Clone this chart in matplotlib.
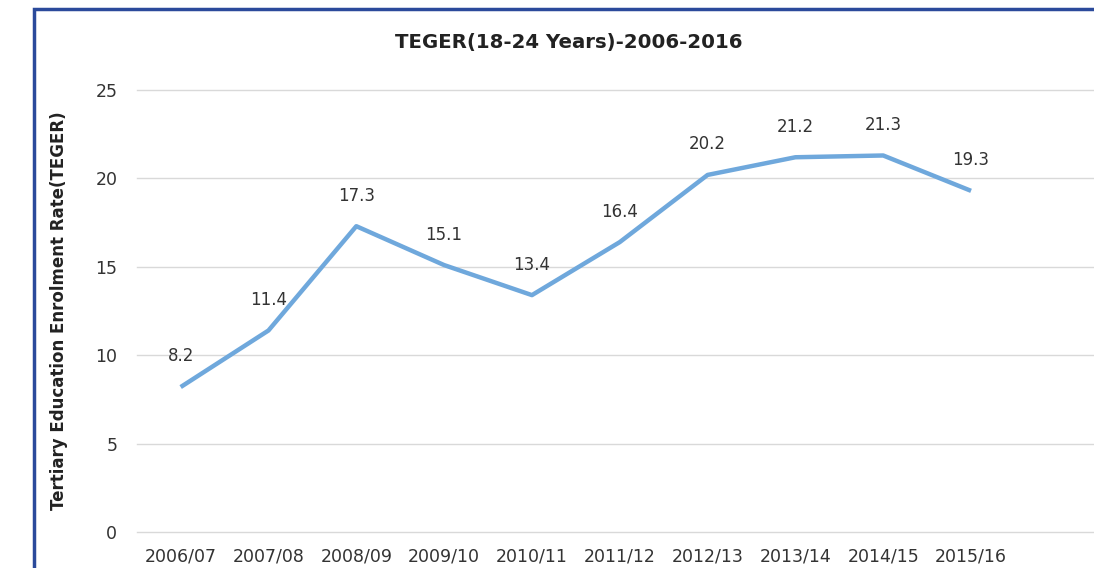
import matplotlib.pyplot as plt
from matplotlib.patches import Rectangle

# Data
years = ['2006/07', '2007/08', '2008/09', '2009/10', '2010/11',
         '2011/12', '2012/13', '2013/14', '2014/15', '2015/16']
teger = [8.2, 11.4, 17.3, 15.1, 13.4, 16.4, 20.2, 21.2, 21.3, 19.3]
y_ticks = [0, 5, 10, 15, 20, 25]

fig = plt.figure(figsize=(10.94, 5.68), dpi=100)
ax = fig.add_axes([0.125, 0.0634, 0.875, 0.778])

x = list(range(len(years)))
ax.plot(x, teger, color='#6fa8dc', linewidth=3.2, solid_capstyle='butt')

# value labels above each point
for xi, v in zip(x, teger):
    ax.annotate(f'{v}', (xi, v), xytext=(0, 22), textcoords='offset points',
                ha='center', va='center', fontsize=12, color='#333333')

ax.set_xlim(-0.5, 10.4)
ax.set_ylim(0, 25)
ax.set_yticks(y_ticks)
ax.set_xticks(x)
ax.set_xticklabels(years)
ax.tick_params(axis='both', length=0, labelsize=12.5, colors='#333333')
ax.tick_params(axis='y', pad=14)
ax.tick_params(axis='x', pad=11)
ax.grid(axis='y', color='#d9d9d9', linewidth=1)
for gl in ax.get_ygridlines():
    gl.set_clip_on(False)
ax.set_axisbelow(True)
for s in ax.spines.values():
    s.set_visible(False)

ax.set_ylabel('Tertiary Education Enrolment Rate(TEGER)', fontsize=12,
              fontweight='bold', color='#222222', labelpad=20)
fig.text(0.52, 0.926, 'TEGER(18-24 Years)-2006-2016', ha='center', va='center',
         fontsize=14.2, fontweight='bold', color='#222222')

# blue frame around the chart (extends past the crop)
fig.patches.append(Rectangle((0.0315, -0.1), 1.2, 1.084, transform=fig.transFigure,
                             fill=False, edgecolor='#2b4a9b', linewidth=2.5))

fig.savefig('out.png', dpi=100)
